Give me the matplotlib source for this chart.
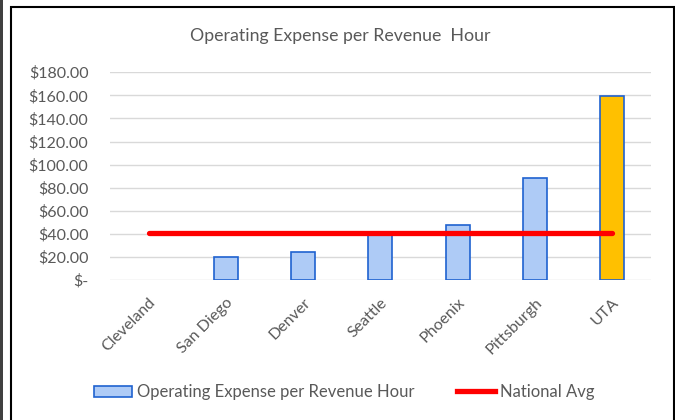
import matplotlib.pyplot as plt
from matplotlib.patches import Rectangle, Patch
from matplotlib.lines import Line2D
import numpy as np

plt.rcParams['font.family'] = ['Lato', 'DejaVu Sans']

cities = ['Cleveland', 'San Diego', 'Denver', 'Seattle', 'Phoenix', 'Pittsburgh', 'UTA']
expense = [0, 20, 24, 42, 48, 88, 159]
national_avg = [41, 41, 41, 41, 41, 41, 41]
y_ticks = [0, 20, 40, 60, 80, 100, 120, 140, 160, 180]

text_color = '#595959'
bar_fill = '#aecbf6'
bar_edge = '#1f62d0'
highlight = '#ffc000'

fig = plt.figure(figsize=(6.75, 4.2), dpi=100)
ax = fig.add_axes([0.163, 0.333, 0.801, 0.495])

x = np.arange(len(cities))
colors = [highlight if c == 'UTA' else bar_fill for c in cities]
edges = [bar_edge if v > 0 else 'none' for v in expense]
ax.bar(x, expense, width=0.31, color=colors, edgecolor=edges, linewidth=1.2, zorder=2)
ax.plot(x, national_avg, color='#ff0000', linewidth=3.8, solid_capstyle='round', zorder=3)

ax.set_xlim(-0.5, len(cities) - 0.5)
ax.set_ylim(0, 180)
ax.set_yticks(y_ticks)
ax.set_yticklabels(['$-' if v == 0 else f'${v:.2f}' for v in y_ticks])
ax.set_xticks(x)
ax.set_xticklabels(cities, rotation=45, ha='right', rotation_mode='anchor')
ax.tick_params(axis='both', length=0, labelsize=11.5, labelcolor=text_color)
ax.tick_params(axis='y', pad=15.5)
ax.tick_params(axis='x', pad=11)
ax.grid(axis='y', color='#d9d9d9', linewidth=1, zorder=0)
for s in ax.spines.values():
    s.set_visible(False)

fig.text(0.504, 0.915, 'Operating Expense per Revenue  Hour', ha='center', va='center',
         fontsize=12.8, color=text_color)

handles = [Patch(facecolor=bar_fill, edgecolor=bar_edge, linewidth=1.2),
           Line2D([0], [0], color='#ff0000', linewidth=3.8)]
fig.legend(handles, ['Operating Expense per Revenue Hour', 'National Avg'],
           loc='center', bbox_to_anchor=(0.51, 0.066), ncol=2, frameon=False,
           fontsize=12, labelcolor=text_color, handlelength=2.3, handletextpad=0.3,
           columnspacing=2.5)

# chart frame and the dark strip on the far left
fig.patches.append(Rectangle((11 / 675, -0.05), 663 / 675, 1.05 - 7 / 420, transform=fig.transFigure,
                             fill=False, edgecolor='black', linewidth=1.5))
fig.patches.append(Rectangle((0, 0), 2.5 / 675, 1, transform=fig.transFigure,
                             facecolor='#404040', edgecolor='none'))

fig.savefig('out.png', dpi=100)
